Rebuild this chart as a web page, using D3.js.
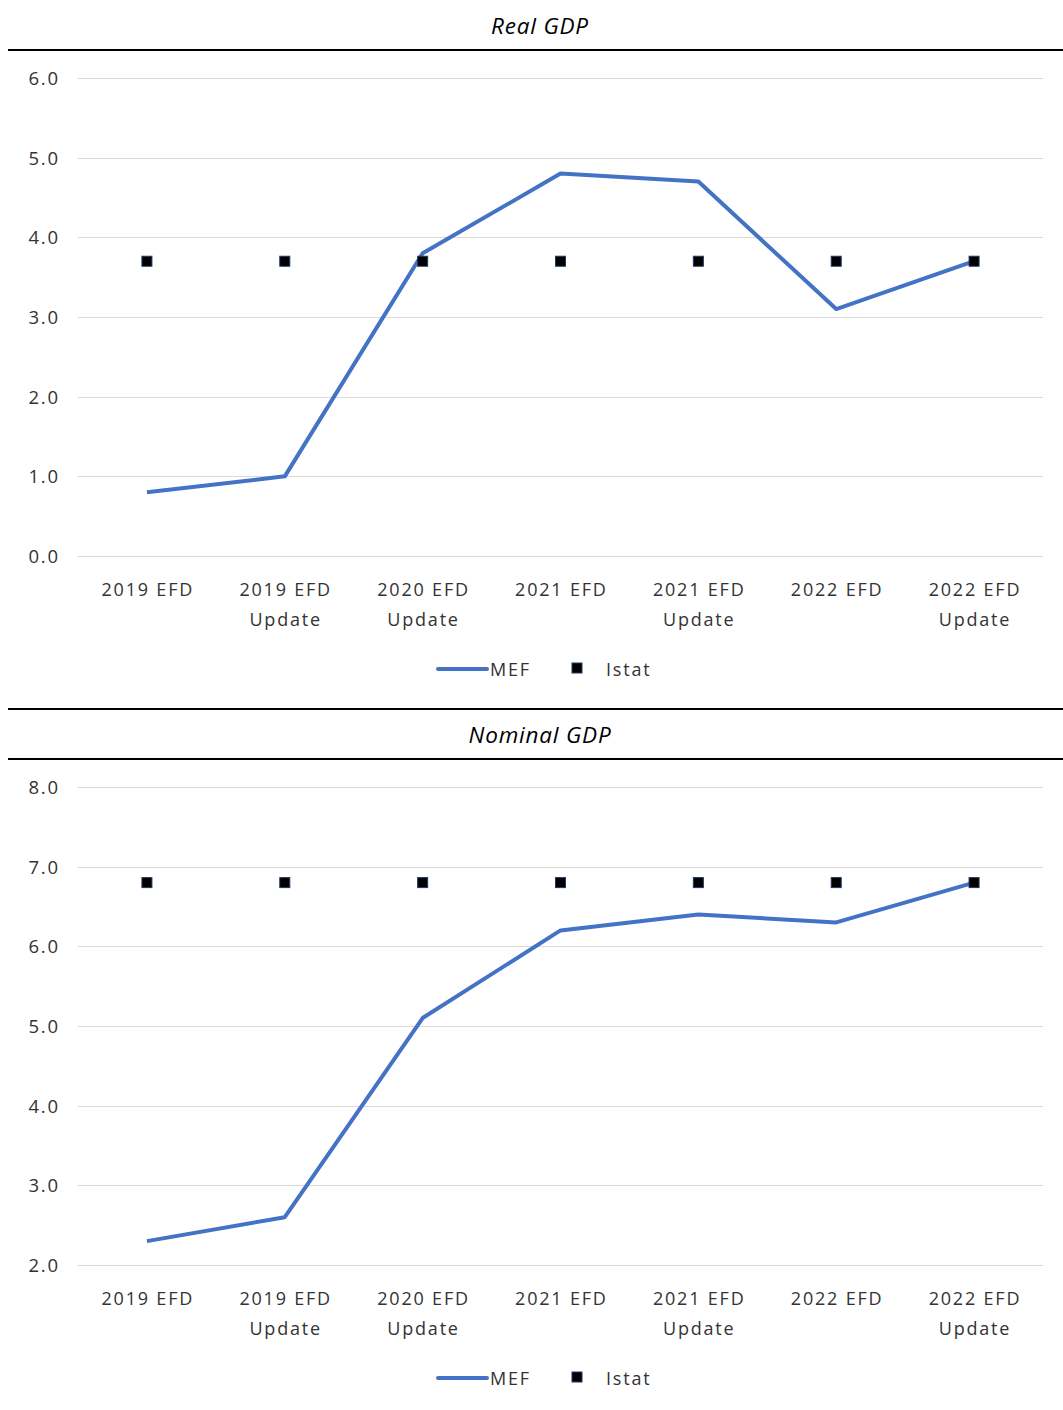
<!DOCTYPE html>
<html>
<head>
<meta charset="utf-8">
<script src="https://cdn.jsdelivr.net/npm/d3@7"></script>
<style>
  body { margin: 0; background: #fff; }
  svg { display: block; }
</style>
</head>
<body>
<svg id="chart" width="1063" height="1410"></svg>
<script>
// Forecast rounds on the x axis
const categories = [
  ["2019 EFD"],
  ["2019 EFD", "Update"],
  ["2020 EFD", "Update"],
  ["2021 EFD"],
  ["2021 EFD", "Update"],
  ["2022 EFD"],
  ["2022 EFD", "Update"]
];

// Real GDP growth forecasts (%)
const realMEF   = [0.8, 1.0, 3.8, 4.8, 4.7, 3.1, 3.7];
const realIstat = [3.7, 3.7, 3.7, 3.7, 3.7, 3.7, 3.7];
const realTicks = [0, 1, 2, 3, 4, 5, 6];

// Nominal GDP growth forecasts (%)
const nominalMEF   = [2.3, 2.6, 5.1, 6.2, 6.4, 6.3, 6.8];
const nominalIstat = [6.8, 6.8, 6.8, 6.8, 6.8, 6.8, 6.8];
const nominalTicks = [2, 3, 4, 5, 6, 7, 8];

const panels = [
  { title: "Real GDP", mef: realMEF, istat: realIstat, ticks: realTicks, top: 0 },
  { title: "Nominal GDP", mef: nominalMEF, istat: nominalIstat, ticks: nominalTicks, top: 709 }
];

const svg = d3.select("#chart");
const labelFont = "'Open Sans', sans-serif";
const lineColor = "#4472C4";
const textColor = "#333333";
const spacing = 1.8;

panels.forEach(p => {
  const g = svg.append("g").attr("transform", `translate(0,${p.top})`);

  // Title bar with rules
  g.append("text")
    .attr("x", 540).attr("y", 34)
    .attr("text-anchor", "middle")
    .attr("font-family", labelFont)
    .attr("font-style", "italic")
    .attr("font-size", 22.5)
    .attr("letter-spacing", 0.8)
    .attr("fill", "#000")
    .text(p.title);
  if (p.top > 0) {
    g.append("line").attr("x1", 8).attr("x2", 1063).attr("y1", 0).attr("y2", 0)
      .attr("stroke", "#000").attr("stroke-width", 2);
  }
  g.append("line").attr("x1", 8).attr("x2", 1063).attr("y1", 50).attr("y2", 50)
    .attr("stroke", "#000").attr("stroke-width", 2);

  const x = d3.scaleBand().domain(d3.range(categories.length)).range([78, 1043]);
  const y = d3.scaleLinear().domain([p.ticks[0], p.ticks[p.ticks.length - 1]]).range([556, 78]);
  const cx = i => x(i) + x.bandwidth() / 2;

  // Gridlines
  g.append("g").selectAll("line").data(p.ticks).join("line")
    .attr("x1", 78).attr("x2", 1043)
    .attr("y1", d => Math.round(y(d)) + 0.5).attr("y2", d => Math.round(y(d)) + 0.5)
    .attr("stroke", "#d9d9d9").attr("stroke-width", 1.2);

  // Y tick labels
  g.append("g").selectAll("text").data(p.ticks).join("text")
    .attr("x", 58 + spacing).attr("y", d => y(d) + 7)
    .attr("text-anchor", "end")
    .attr("font-family", labelFont).attr("font-size", 18.5)
    .attr("letter-spacing", spacing).attr("fill", textColor)
    .text(d => d3.format(".1f")(d));

  // X category labels
  const xl = g.append("g").selectAll("text").data(categories).join("text")
    .attr("x", (d, i) => cx(i) + spacing / 2).attr("y", 596)
    .attr("text-anchor", "middle")
    .attr("font-family", labelFont).attr("font-size", 18)
    .attr("letter-spacing", spacing).attr("fill", textColor);
  xl.selectAll("tspan").data(d => d).join("tspan")
    .attr("x", function() { return d3.select(this.parentNode).attr("x"); })
    .attr("dy", (d, i) => i === 0 ? 0 : 30)
    .text(d => d);

  // MEF line
  const line = d3.line().x((d, i) => cx(i)).y(d => y(d));
  g.append("path").datum(p.mef)
    .attr("d", line)
    .attr("fill", "none").attr("stroke", lineColor).attr("stroke-width", 4)
    .attr("stroke-linejoin", "round");

  // Istat markers
  g.append("g").selectAll("rect").data(p.istat).join("rect")
    .attr("x", (d, i) => cx(i) - 5).attr("y", d => y(d) - 5)
    .attr("width", 10).attr("height", 10)
    .attr("fill", "#000").attr("stroke", "#1f3864").attr("stroke-width", 1);

  // Legend
  const lg = g.append("g");
  lg.append("line").attr("x1", 438).attr("x2", 487).attr("y1", 669).attr("y2", 669)
    .attr("stroke", lineColor).attr("stroke-width", 4).attr("stroke-linecap", "round");
  lg.append("text").attr("x", 490).attr("y", 676)
    .attr("font-family", labelFont).attr("font-size", 18)
    .attr("letter-spacing", spacing).attr("fill", textColor).text("MEF");
  lg.append("rect").attr("x", 572).attr("y", 663).attr("width", 10).attr("height", 10)
    .attr("fill", "#000").attr("stroke", "#1f3864").attr("stroke-width", 1);
  lg.append("text").attr("x", 606).attr("y", 676)
    .attr("font-family", labelFont).attr("font-size", 18)
    .attr("letter-spacing", spacing).attr("fill", textColor).text("Istat");
});
</script>
</body>
</html>
